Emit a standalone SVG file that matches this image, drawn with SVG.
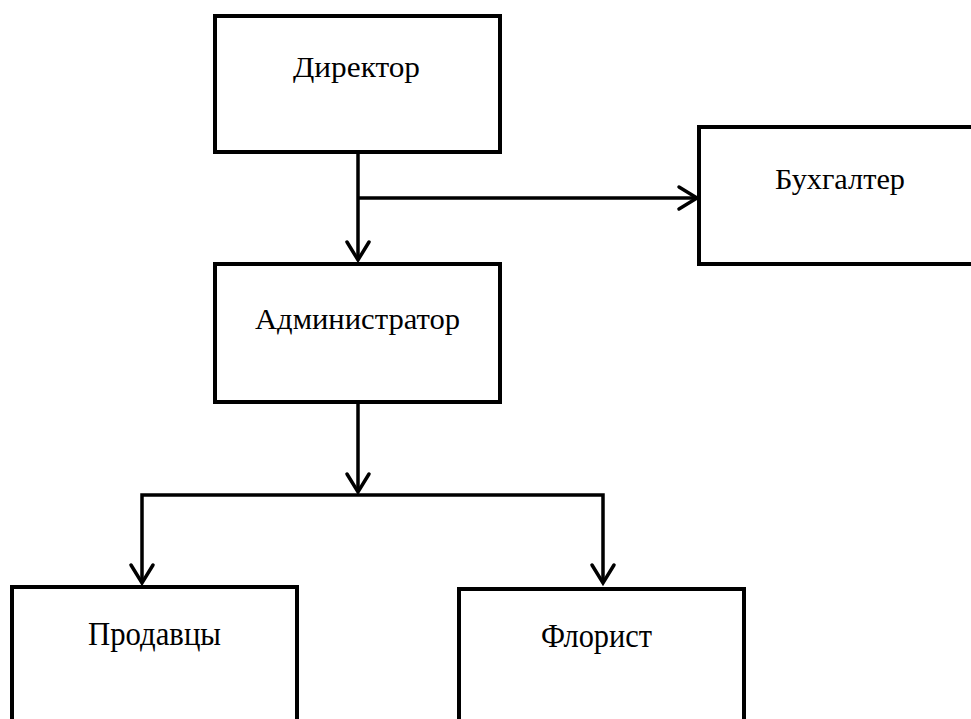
<svg xmlns="http://www.w3.org/2000/svg" width="971" height="719" viewBox="0 0 971 719">
  <style>
    .box { fill: #ffffff; stroke: #000000; stroke-width: 4; }
    .wire { fill: none; stroke: #000000; stroke-width: 3.5; stroke-linejoin: miter; }
    .head { fill: none; stroke: #000000; stroke-width: 3.5; stroke-linecap: round; stroke-linejoin: miter; }
    .label { font-family: "Liberation Serif", "DejaVu Serif", serif; font-size: 30px; fill: #000000; }
    .tall { font-size: 34px; }
  </style>
  <rect width="971" height="719" fill="#ffffff"/>

  <!-- connectors -->
  <g id="connectors">
    <!-- Директор -> Администратор, with branch to Бухгалтер -->
    <path class="wire" d="M358 152 V260"/>
    <path class="head" d="M347 242 L358 260 L369 242"/>
    <path class="wire" d="M358 198 H696"/>
    <path class="head" d="M679 187 L697 198 L679 209"/>
    <!-- Администратор -> Продавцы / Флорист -->
    <path class="wire" d="M358 402 V492"/>
    <path class="head" d="M347 474 L358 492 L369 474"/>
    <path class="wire" stroke-width="4.5" d="M142 583 V495 H603 V583"/>
    <path class="head" d="M131 565 L142 583 L153 565"/>
    <path class="head" d="M592 565 L603 583 L614 565"/>
  </g>

  <g id="director">
    <rect class="box" x="215" y="16" width="285" height="136"/>
    <text class="label" font-family="Liberation Serif, serif" x="293" y="77" textLength="127" lengthAdjust="spacingAndGlyphs">Директор</text>
  </g>

  <g id="accountant">
    <rect class="box" x="699" y="127" width="290" height="137"/>
    <text class="label" x="775" y="189" textLength="130" lengthAdjust="spacingAndGlyphs">Бухгалтер</text>
  </g>

  <g id="administrator">
    <rect class="box" x="215" y="264" width="285" height="138"/>
    <text class="label" x="255" y="329" textLength="205" lengthAdjust="spacingAndGlyphs">Администратор</text>
  </g>

  <g id="sellers">
    <rect class="box" x="12" y="587" width="285" height="150"/>
    <text class="label tall" x="88" y="645" textLength="133" lengthAdjust="spacingAndGlyphs">Продавцы</text>
  </g>

  <g id="florist">
    <rect class="box" x="459" y="589" width="285" height="150"/>
    <text class="label tall" x="541" y="647" textLength="111" lengthAdjust="spacingAndGlyphs">Флорист</text>
  </g>
</svg>
